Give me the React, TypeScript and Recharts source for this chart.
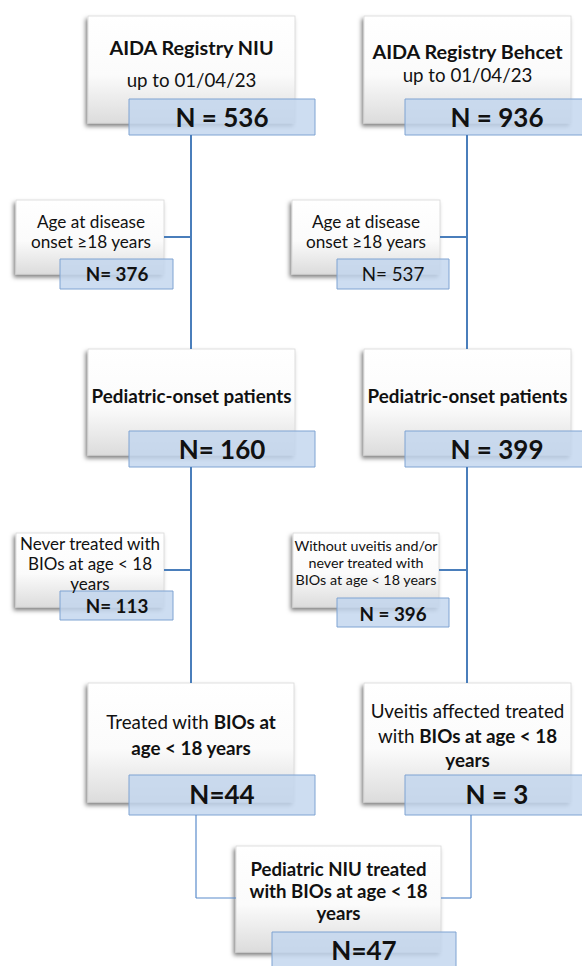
import React from 'react';
import { ScatterChart, Scatter, XAxis, YAxis, ReferenceArea, ReferenceLine } from 'recharts';

// ---------------- data ----------------
const registries = ['AIDA Registry NIU', 'AIDA Registry Behcet'];
const cutoffDate = 'up to 01/04/23';
const registryTotals = [536, 936];
const adultOnsetExcluded = [376, 537];
const pediatricOnset = [160, 399];
const notTreatedExcluded = [113, 396];
const treatedWithBIOs = [44, 3];
const finalCohort = 47;
// separator used after "N" in each count label, in reading order
const nSeparators = [' = ', ' = ', '= ', '= ', '= ', ' = ', '= ', ' = ', '=', ' = ', '='];

const adultOnsetText = ['Age at disease', 'onset ≥18 years'];
const pediatricText = ['**Pediatric-onset patients**'];
const neverTreatedText = ['Never treated with', 'BIOs at age < 18', 'years'];
const withoutUveitisText = ['Without uveitis and/or', 'never treated with', 'BIOs at age < 18 years'];
const treatedLeftText = ['Treated with **BIOs at**', '**age < 18 years**'];
const treatedRightText = ['Uveitis affected treated', 'with **BIOs at age < 18**', '**years**'];
const finalText = ['**Pediatric NIU treated**', '**with BIOs at age < 18**', '**years**'];

// ---------------- layout (chart units, 1 unit = 1px) ----------------
const W = 582;
const H = 966;
type Box = [number, number, number, number];
const whiteBoxes: Box[] = [
  [88, 16, 295, 123], [364, 16, 571, 123],
  [16, 200, 164, 274], [292, 200, 440, 274],
  [88, 349, 295, 455], [364, 349, 571, 455],
  [16, 533, 164, 607], [293, 533, 439, 607],
  [88, 683, 294, 802], [364, 683, 571, 802],
  [236, 846, 441, 952],
];
const blueBoxes: Box[] = [
  [129, 99, 315, 135], [405, 99, 590, 135],
  [60, 259, 173, 289], [337, 259, 449, 289],
  [129, 431, 315, 467], [405, 431, 590, 467],
  [60, 591, 173, 620], [337, 598, 449, 627],
  [129, 775, 315, 815], [405, 775, 590, 815],
  [272, 932, 456, 990],
];
type Seg = [number, number, number, number];
const thickLines: Seg[] = [
  [191, 135, 191, 349], [191, 467, 191, 683],
  [467, 135, 467, 349], [467, 467, 467, 683],
  [164, 237, 191, 237], [440, 237, 467, 237],
  [164, 570, 191, 570], [439, 570, 467, 570],
];
const thinLines: Seg[] = [
  [196, 815, 196, 898], [196, 898, 236, 898],
  [471, 815, 471, 898], [441, 898, 471, 898],
];

// ---------------- build text table ----------------
type TextItem = { x: number; y: number; text: string; size: number; bold: boolean };
const texts: TextItem[] = [];
const addLines = (lines: string[], x: number, y0: number, lh: number, size: number, bold = false) => {
  lines.forEach((t, i) => texts.push({ x, y: y0 + i * lh, text: t, size, bold }));
};
const counts = [
  registryTotals[0], registryTotals[1],
  adultOnsetExcluded[0], adultOnsetExcluded[1],
  pediatricOnset[0], pediatricOnset[1],
  notTreatedExcluded[0], notTreatedExcluded[1],
  treatedWithBIOs[0], treatedWithBIOs[1],
  finalCohort,
];
const nLabel = (i: number) => `N${nSeparators[i]}${counts[i]}`;

// titles
addLines([registries[0]], 191.5, 47, 0, 19.8, true);
addLines([cutoffDate], 191.5, 80, 0, 18.7);
addLines([registries[1]], 467.5, 51, 0, 19.8, true);
addLines([cutoffDate], 467.5, 75, 0, 18.7);
addLines(adultOnsetText, 91, 221, 19.5, 17.2);
addLines(adultOnsetText, 366, 221, 19.5, 17.2);
addLines(pediatricText, 191.5, 395, 0, 18.8);
addLines(pediatricText, 467.5, 395, 0, 18.8);
addLines(neverTreatedText, 90, 543, 20, 17);
addLines(withoutUveitisText, 366, 545, 17, 14.3);
addLines(treatedLeftText, 191, 721, 26, 18.8);
addLines(treatedRightText, 467.5, 710, 24.5, 18.8);
addLines(finalText, 338.5, 869, 22, 18.6);

// counts
const nPos: [number, number, number, boolean][] = [
  [222, 117, 26, true], [497, 117, 26, true],
  [117, 273, 18.8, true], [393, 273, 18.8, false],
  [222, 449, 26, true], [497, 449, 26, true],
  [117, 605, 18.8, true], [393, 613, 18.8, true],
  [222, 794, 26, true], [497, 794, 26, true],
  [364, 950, 26, true],
];
nPos.forEach((p, i) => texts.push({ x: p[0], y: p[1], text: nLabel(i), size: p[2], bold: p[3] }));

const FONT = 'Lato, "Noto Sans", sans-serif';

const parseSegments = (s: string) => {
  const parts = s.split('**');
  return parts.map((t, i) => ({ t, b: i % 2 === 1 })).filter((p) => p.t.length > 0);
};

const TextShape = (props: any) => {
  const { cx, cy, payload } = props;
  if (cx == null || cy == null) return null;
  const segs = parseSegments(payload.text);
  return (
    <text
      x={cx}
      y={cy}
      textAnchor="middle"
      dominantBaseline="central"
      fontFamily={FONT}
      fontSize={payload.size}
      fill="#111"
    >
      {segs.map((s, i) => (
        <tspan key={i} fontWeight={payload.bold || s.b ? 700 : 400}>
          {s.t}
        </tspan>
      ))}
    </text>
  );
};

const WhiteShape = (props: any) => {
  const { x, y, width, height } = props;
  return (
    <g>
      <defs>
        <linearGradient id="boxGrad" x1="0" y1="0" x2="0" y2="1">
          <stop offset="0%" stopColor="#ffffff" />
          <stop offset="55%" stopColor="#fbfbfb" />
          <stop offset="100%" stopColor="#dcdcdc" />
        </linearGradient>
        <filter id="boxShadow" x="-20%" y="-20%" width="140%" height="140%">
          <feDropShadow dx="-2" dy="3" stdDeviation="2" floodColor="#000" floodOpacity="0.5" />
        </filter>
      </defs>
      <rect
        x={x}
        y={y}
        width={width}
        height={height}
        fill="url(#boxGrad)"
        stroke="#d8d8d8"
        strokeWidth={0.8}
        filter="url(#boxShadow)"
      />
    </g>
  );
};

export default function App() {
  return (
    <div style={{ position: 'absolute', left: 0, top: 0, width: W, height: H, background: '#fff' }}>
      <ScatterChart width={W} height={H} margin={{ top: 0, right: 0, bottom: 0, left: 0 }}>
        <XAxis type="number" dataKey="x" domain={[0, W]} hide allowDataOverflow />
        <YAxis type="number" dataKey="y" domain={[0, H]} reversed hide allowDataOverflow />
        {thickLines.map((l, i) => (
          <ReferenceLine
            key={`tl${i}`}
            segment={[{ x: l[0], y: l[1] }, { x: l[2], y: l[3] }]}
            stroke="#4a7ebb"
            strokeWidth={2}
            ifOverflow="visible"
          />
        ))}
        {thinLines.map((l, i) => (
          <ReferenceLine
            key={`nl${i}`}
            segment={[{ x: l[0], y: l[1] }, { x: l[2], y: l[3] }]}
            stroke="#5b8ccc"
            strokeWidth={1.2}
            ifOverflow="visible"
          />
        ))}
        {whiteBoxes.map((b, i) => (
          <ReferenceArea
            key={`w${i}`}
            x1={b[0]}
            y1={b[1]}
            x2={b[2]}
            y2={b[3]}
            ifOverflow="visible"
            shape={(p: any) => <WhiteShape {...p} />}
          />
        ))}
        {blueBoxes.map((b, i) => (
          <ReferenceArea
            key={`b${i}`}
            x1={b[0]}
            y1={b[1]}
            x2={b[2]}
            y2={b[3]}
            ifOverflow="visible"
            fill="#c2d5ee"
            fillOpacity={0.82}
            stroke="#7ea3d2"
            strokeWidth={1}
            strokeOpacity={1}
          />
        ))}
        <Scatter data={texts} isAnimationActive={false} shape={(p: any) => <TextShape {...p} />} />
      </ScatterChart>
    </div>
  );
}
